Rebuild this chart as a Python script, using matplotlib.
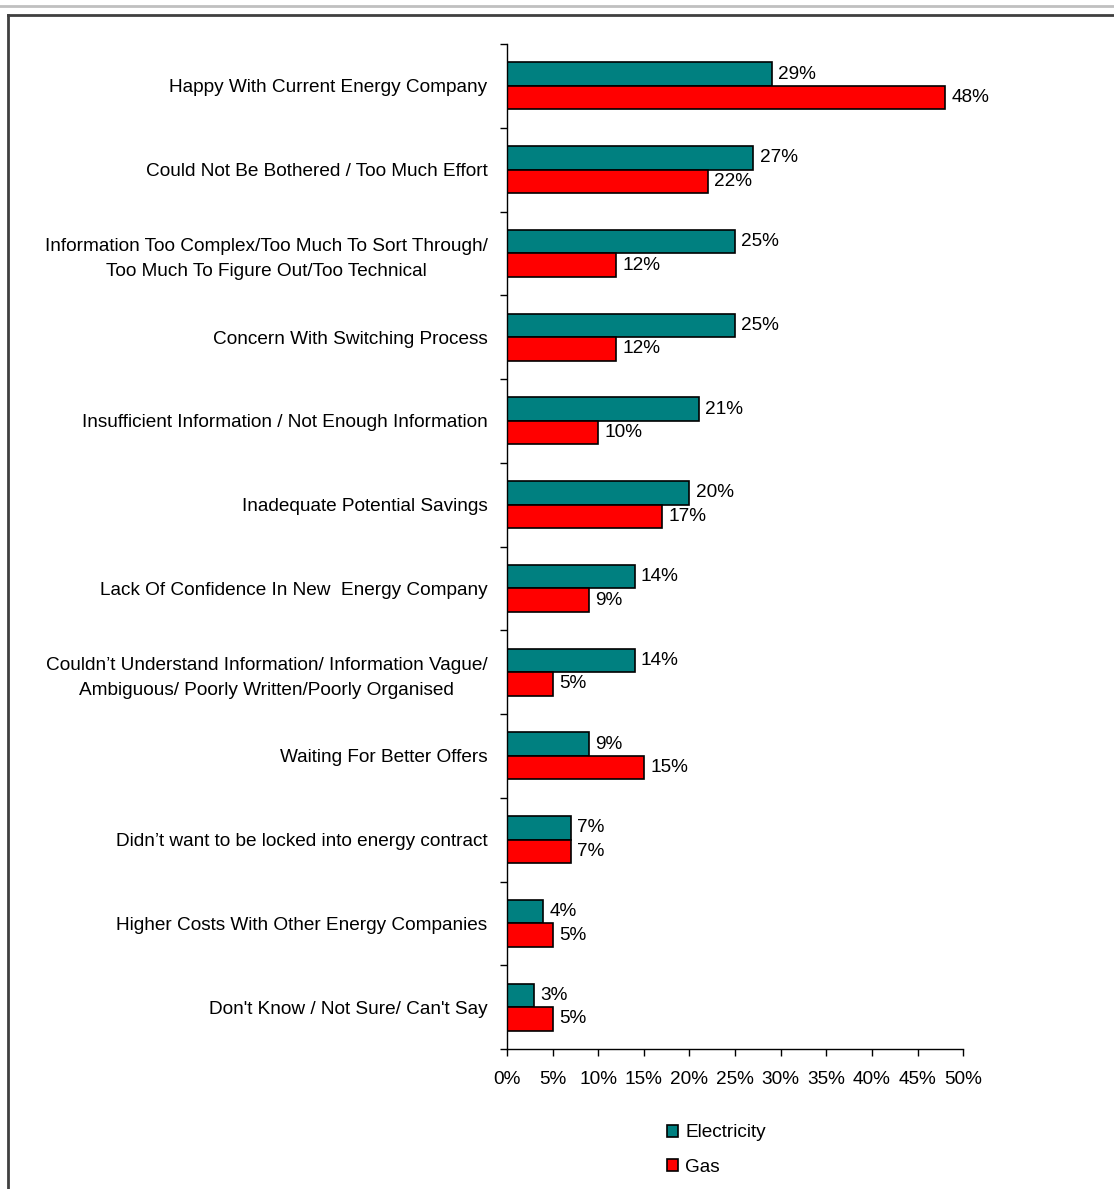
import numpy as np
import matplotlib.pyplot as plt
from matplotlib.lines import Line2D

plt.rcParams['font.family'] = ['Liberation Sans', 'DejaVu Sans']

# Reasons for not switching energy company (% of respondents)
reasons = [
    "Happy With Current Energy Company",
    "Could Not Be Bothered / Too Much Effort",
    "Information Too Complex/Too Much To Sort Through/\nToo Much To Figure Out/Too Technical",
    "Concern With Switching Process",
    "Insufficient Information / Not Enough Information",
    "Inadequate Potential Savings",
    "Lack Of Confidence In New  Energy Company",
    "Couldn\u2019t Understand Information/ Information Vague/\nAmbiguous/ Poorly Written/Poorly Organised",
    "Waiting For Better Offers",
    "Didn\u2019t want to be locked into energy contract",
    "Higher Costs With Other Energy Companies",
    "Don't Know / Not Sure/ Can't Say",
]
electricity = [29, 27, 25, 25, 21, 20, 14, 14, 9, 7, 4, 3]
gas = [48, 22, 12, 12, 10, 17, 9, 5, 15, 7, 5, 5]

teal = '#008080'
red = '#FF0000'
fs = 13.7

fig = plt.figure(figsize=(11.14, 11.89), dpi=100)
ax = fig.add_axes([0.4551, 0.1177, 0.4096, 0.8453])

y = np.arange(len(reasons))
h = 0.28
b1 = ax.barh(y - h / 2, electricity, height=h, color=teal, edgecolor='black', linewidth=1.2, label='Electricity')
b2 = ax.barh(y + h / 2, gas, height=h, color=red, edgecolor='black', linewidth=1.2, label='Gas')

for bars, vals in ((b1, electricity), (b2, gas)):
    for bar, v in zip(bars, vals):
        ax.annotate(f"{v}%", (v, bar.get_y() + bar.get_height() / 2),
                    xytext=(4.5, 0), textcoords='offset points',
                    ha='left', va='center', fontsize=fs)

ax.set_ylim(len(reasons) - 0.5, -0.5)
ax.set_xlim(0, 50)
ax.set_xticks(np.arange(0, 51, 5))
ax.set_xticklabels([f"{t}%" for t in range(0, 51, 5)], fontsize=fs)

ax.set_yticks(y)
ax.set_yticklabels(reasons, fontsize=fs, multialignment='center', linespacing=1.58)
ax.set_yticks(np.arange(-0.5, len(reasons)), minor=True)
ax.tick_params(axis='y', which='major', length=0, pad=14)
ax.tick_params(axis='y', which='minor', length=5, width=1, color='black', direction='out')
ax.tick_params(axis='x', length=5, width=1, direction='out', pad=11)

for s in ('top', 'right'):
    ax.spines[s].set_visible(False)
for s in ('left', 'bottom'):
    ax.spines[s].set_linewidth(1)

ax.legend(loc='upper left', bbox_to_anchor=(0.313, -0.058), frameon=False,
          fontsize=fs, handlelength=0.6, handleheight=0.6, handletextpad=0.35,
          labelspacing=0.92)

# outer frame
fig.add_artist(Line2D([0, 1], [1 - 5.5 / 1189] * 2, color='#c0c0c0', linewidth=2))
fig.add_artist(Line2D([8 / 1114, 1], [1 - 15 / 1189] * 2, color='#404040', linewidth=2))
fig.add_artist(Line2D([8 / 1114] * 2, [0, 1 - 15 / 1189], color='#404040', linewidth=2))

fig.savefig('out.png', dpi=100, facecolor='white')
